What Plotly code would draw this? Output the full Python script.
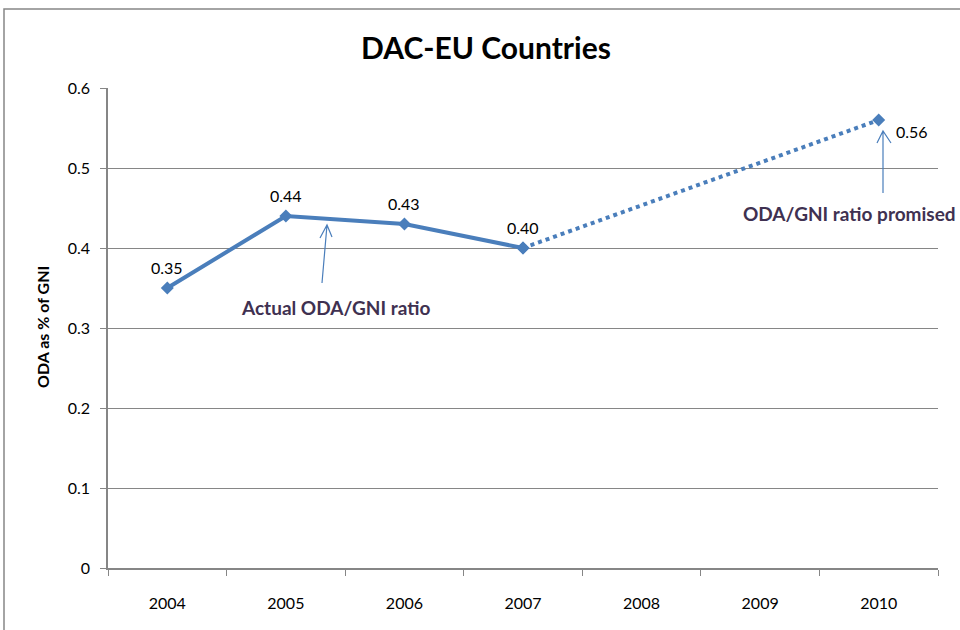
import plotly.graph_objects as go

years = ["2004", "2005", "2006", "2007", "2008", "2009", "2010"]
actual_years = ["2004", "2005", "2006", "2007"]
actual_values = [0.35, 0.44, 0.43, 0.40]
promised_years = ["2007", "2010"]
promised_values = [0.40, 0.56]
y_ticks = [0, 0.1, 0.2, 0.3, 0.4, 0.5, 0.6]

BLUE = "#4A7EBB"
GRID = "#868686"
NOTE = "#3F3151"
FONT = "Lato"

# plot area in pixels
L, R, T, B = 108, 938, 88, 568


def px(x, y):
    return (x - L) / (R - L), (B - y) / (B - T)


def arrow_path(tip, tail, left, right):
    pts = [px(*p) for p in (tail, tip, left, right)]
    (x0, y0), (x1, y1), (x2, y2), (x3, y3) = pts
    return f"M {x0} {y0} L {x1} {y1} M {x2} {y2} L {x1} {y1} L {x3} {y3}"


fig = go.Figure()

fig.add_trace(go.Scatter(
    x=promised_years, y=promised_values,
    mode="lines+markers",
    line=dict(color=BLUE, width=4, dash="4px,4px"),
    marker=dict(symbol="diamond", size=10, color=BLUE),
    cliponaxis=False, showlegend=False,
))

fig.add_trace(go.Scatter(
    x=actual_years, y=actual_values,
    mode="lines+markers",
    line=dict(color=BLUE, width=4),
    marker=dict(symbol="diamond", size=10, color=BLUE),
    cliponaxis=False, showlegend=False,
))

shapes = [
    # outer chart frame
    dict(type="rect", xref="paper", yref="paper",
         x0=px(4, 0)[0], x1=px(975, 0)[0], y0=px(0, 640)[1], y1=px(0, 9)[1],
         line=dict(color=GRID, width=1.5), layer="below"),
    dict(type="path", xref="paper", yref="paper",
         path=arrow_path((327, 225), (322, 283), (320, 238), (332, 237)),
         line=dict(color=BLUE, width=1.2)),
    dict(type="path", xref="paper", yref="paper",
         path=arrow_path((883, 131), (883, 193), (877, 143), (891, 143)),
         line=dict(color=BLUE, width=1.2)),
]

label_font = dict(family=FONT, size=16, color="black")
# category axis: annotations take the category index
annotations = [
    dict(text=f"{v:.2f}", x=years.index(yr), y=v, xref="x", yref="y", yshift=21,
         showarrow=False, xanchor="center", yanchor="middle", font=label_font)
    for yr, v in zip(actual_years, actual_values)
]
annotations.append(
    dict(text=f"{promised_values[-1]:.2f}", x=years.index(promised_years[-1]),
         y=promised_values[-1], xref="x", yref="y", xshift=33, yshift=-11,
         showarrow=False, xanchor="center", yanchor="middle", font=label_font)
)
annotations += [
    dict(text="<b>Actual ODA/GNI ratio</b>", xref="paper", yref="paper",
         x=px(335, 0)[0], y=px(0, 307)[1], showarrow=False,
         xanchor="center", yanchor="middle",
         font=dict(family=FONT, size=19, color=NOTE)),
    dict(text="<b>ODA/GNI ratio promised</b>", xref="paper", yref="paper",
         x=px(849, 0)[0], y=px(0, 213)[1], showarrow=False,
         xanchor="center", yanchor="middle",
         font=dict(family=FONT, size=19, color=NOTE)),
    dict(text="<b>ODA as % of GNI</b>", xref="paper", yref="paper",
         x=px(42, 0)[0], y=px(0, 327)[1], textangle=-90, showarrow=False,
         xanchor="center", yanchor="middle",
         font=dict(family=FONT, size=16, color="black")),
]

fig.update_layout(
    width=960, height=630,
    margin=dict(l=L, r=960 - R, t=T, b=630 - B),
    paper_bgcolor="white", plot_bgcolor="white",
    font=dict(family=FONT, size=16, color="black"),
    title=dict(text="<b>DAC-EU Countries</b>", x=486 / 960, xanchor="center",
               y=1 - 48 / 630, yanchor="middle",
               font=dict(family=FONT, size=30, color="black")),
    shapes=shapes,
    annotations=annotations,
    xaxis=dict(
        type="category", categoryorder="array", categoryarray=years,
        range=[-0.5, 6.5], tickson="boundaries",
        ticks="outside", ticklen=6, tickcolor=GRID,
        showline=True, linecolor=GRID, linewidth=1.5,
        showgrid=False, zeroline=False,
        tickfont=dict(size=16), ticklabelstandoff=20,
    ),
    yaxis=dict(
        range=[0, 0.6], tickvals=y_ticks, ticktext=[f"{v:g}" for v in y_ticks],
        ticks="outside", ticklen=6, tickcolor=GRID,
        showline=True, linecolor=GRID, linewidth=1.5,
        showgrid=True, gridcolor=GRID, gridwidth=1,
        zeroline=False, tickfont=dict(size=16), ticklabelstandoff=7,
    ),
)

fig.write_html(
    "out.html",
    config={"displayModeBar": False},
    post_script="document.body.style.margin='0';document.body.style.overflow='hidden';",
)
